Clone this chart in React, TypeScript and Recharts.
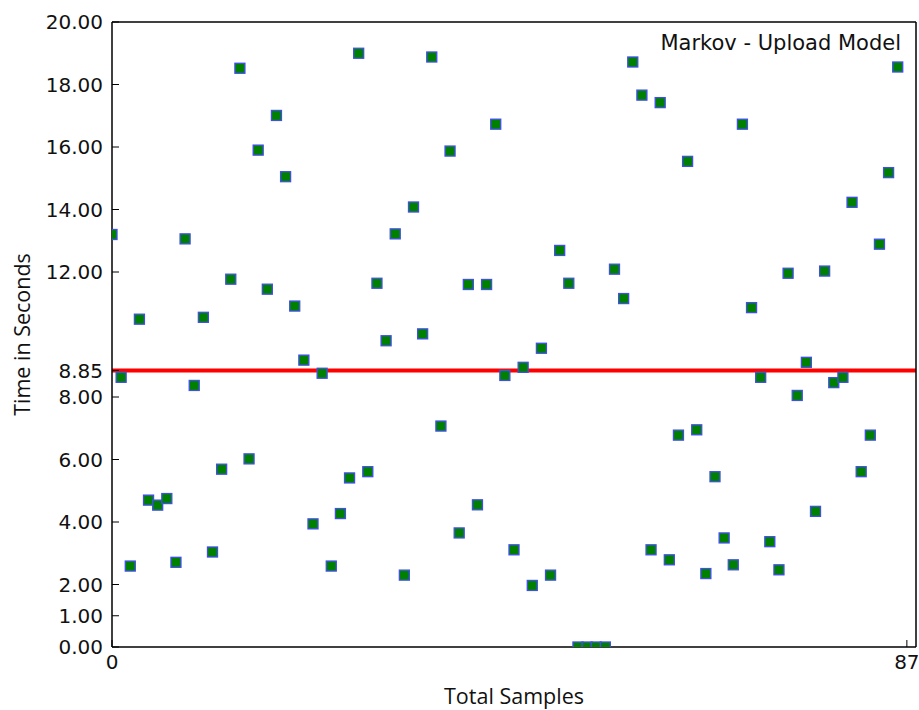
import React from "react";
import {
  ScatterChart,
  Scatter,
  XAxis,
  YAxis,
  ReferenceLine,
} from "recharts";

// time (seconds) of each sample, index = sample number
const SAMPLE_TIMES = [
  13.2, 8.63, 2.59, 10.49, 4.7, 4.54, 4.75, 2.71, 13.06, 8.37,
  10.55, 3.04, 5.69, 11.77, 18.52, 6.02, 15.9, 11.45, 17.01, 15.05,
  10.91, 9.18, 3.94, 8.76, 2.59, 4.27, 5.41, 19.0, 5.61, 11.64,
  9.8, 13.22, 2.3, 14.08, 10.02, 18.88, 7.07, 15.87, 3.65, 11.6,
  4.55, 11.6, 16.73, 8.69, 3.11, 8.95, 1.97, 9.56, 2.3, 12.69,
  11.64, 0, 0, 0, 0, 12.09, 11.15, 18.72, 17.66, 3.11,
  17.42, 2.79, 6.78, 15.54, 6.95, 2.35, 5.45, 3.49, 2.63, 16.73,
  10.86, 8.63, 3.37, 2.47, 11.96, 8.05, 9.11, 4.34, 12.03, 8.46,
  8.63, 14.23, 5.61, 6.78, 12.89, 15.18, 18.56,
];

const MEAN_TIME = 8.85;
const Y_TICKS = [0, 1, 2, 4, 6, 8, 8.85, 12, 14, 16, 18, 20];
const X_TICKS = [0, 87];

const data = SAMPLE_TIMES.map((t, i) => ({ x: i, y: t }));

const tickFont = { fontFamily: "DejaVu Sans", fontSize: 20, fill: "#111" };
const frame = { stroke: "#000", strokeWidth: 1.5 };

// green square with blue edge, like matplotlib's "gs"
const SquareMarker = (props: any) => {
  const { cx, cy } = props;
  if (cx == null || cy == null) return null;
  return (
    <rect
      x={cx - 5}
      y={cy - 5}
      width={10}
      height={10}
      fill="#008000"
      stroke="#3f4fe8"
      strokeWidth={1.3}
    />
  );
};

export default function App() {
  return (
    <div style={{ position: "relative", width: 919, height: 710 }}>
      <style>{"body{margin:0}"}</style>
      <ScatterChart
        width={919}
        height={710}
        margin={{ top: 0, right: 0, bottom: 0, left: 0 }}
      >
        <XAxis
          type="number"
          dataKey="x"
          domain={[0, 88]}
          ticks={X_TICKS}
          allowDataOverflow
          height={63}
          tickSize={-7}
          tickMargin={15}
          axisLine={frame}
          tickLine={{ stroke: "#000" }}
          tick={tickFont}
          label={{
            value: "Total Samples",
            position: "insideBottom",
            offset: 6,
            fontFamily: "Open Sans",
            fontSize: 21.5,
            fill: "#111",
          }}
        />
        <XAxis
          xAxisId="top"
          orientation="top"
          type="number"
          domain={[0, 88]}
          ticks={X_TICKS}
          allowDataOverflow
          height={22}
          tickSize={-7}
          axisLine={frame}
          tickLine={{ stroke: "#000" }}
          tick={false}
        />
        <YAxis
          type="number"
          dataKey="y"
          domain={[0, 20]}
          ticks={Y_TICKS}
          allowDataOverflow
          interval={0}
          width={112}
          tickSize={-7}
          tickMargin={16}
          axisLine={frame}
          tickLine={{ stroke: "#000" }}
          tick={tickFont}
          tickFormatter={(v: number) => v.toFixed(2)}
          label={{
            value: "Time in Seconds",
            angle: -90,
            position: "insideLeft",
            offset: 22,
            fontFamily: "Open Sans",
            fontSize: 21.5,
            fill: "#111",
            style: { textAnchor: "middle" },
          }}
        />
        <YAxis
          yAxisId="right"
          orientation="right"
          type="number"
          domain={[0, 20]}
          ticks={Y_TICKS}
          allowDataOverflow
          interval={0}
          width={3}
          tickSize={-7}
          axisLine={frame}
          tickLine={{ stroke: "#000" }}
          tick={false}
        />
        <Scatter
          data={data}
          shape={<SquareMarker />}
          isAnimationActive={false}
        />
        <ReferenceLine y={MEAN_TIME} stroke="#ff0000" strokeWidth={4} />
      </ScatterChart>
      <div
        style={{
          position: "absolute",
          right: 18,
          top: 33,
          fontFamily: "DejaVu Sans",
          fontSize: 21,
          lineHeight: "21px",
          color: "#111",
          whiteSpace: "nowrap",
        }}
      >
        Markov - Upload Model
      </div>
    </div>
  );
}
